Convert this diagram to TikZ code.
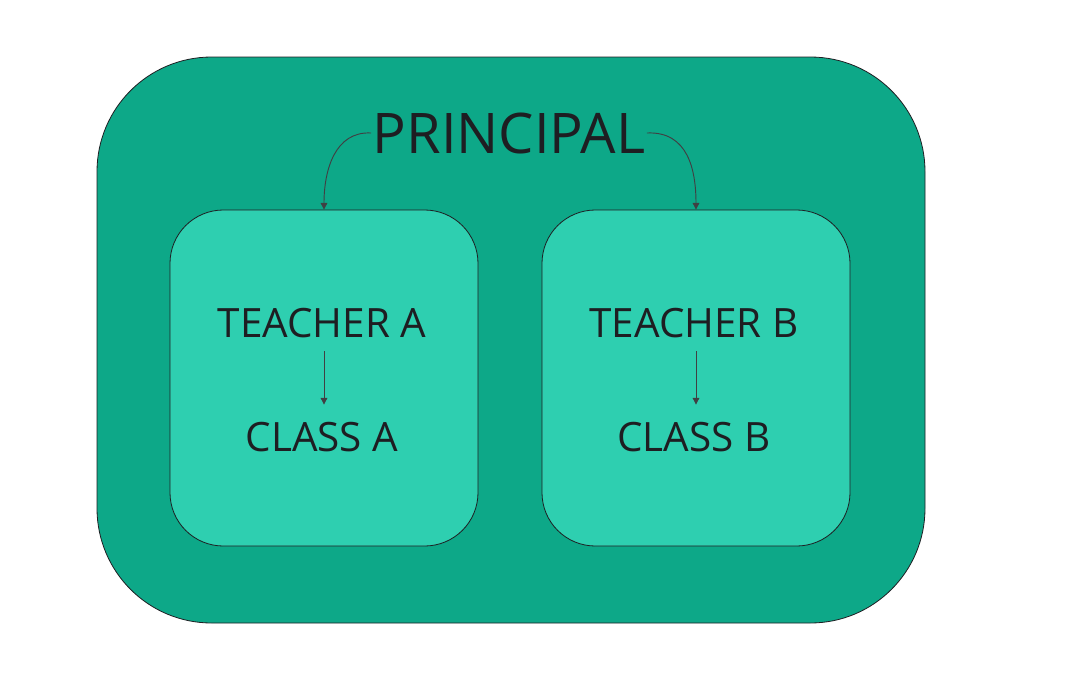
\documentclass[tikz,border=0pt]{standalone}
\usepackage{fontspec}
\setmainfont{Open Sans}
\usetikzlibrary{arrows.meta,positioning}

\definecolor{outergreen}{RGB}{13,168,136}
\definecolor{innergreen}{RGB}{46,207,176}
\definecolor{inkdark}{RGB}{30,30,34}

\tikzset{
  outerbox/.style={draw=inkdark, line width=0.6pt, fill=outergreen, rounded corners=86pt,
    minimum width=621pt, minimum height=424.5pt, inner sep=0pt},
  classbox/.style={draw=inkdark, line width=0.6pt, fill=innergreen, rounded corners=40pt,
    minimum width=231pt, minimum height=252pt, inner sep=0pt},
  bigtext/.style={font=\fontsize{42}{48}\selectfont, text=inkdark, inner sep=1pt},
  smalltext/.style={font=\fontsize{30.3}{34}\selectfont, text=inkdark, inner sep=1pt},
  link/.style={draw=inkdark!85, line width=0.7pt, -{Triangle[length=5pt,width=5pt]}},
}

\begin{document}
\begin{tikzpicture}[x=0.75pt,y=0.75pt,yscale=-1,xscale=1]
\useasboundingbox (0,0) rectangle (1065,697);

% outer frame
\node[outerbox] (principalbox) at (511,340) {};
% two inner frames
\node[classbox] (boxa) at (324,378) {};
\node[classbox] (boxb) at (696,378) {};

% Text Node
\node[bigtext] (principal) at (509,133) {PRINCIPAL};
\node[smalltext] (teachera) at (322,323) {TEACHER A};
\node[smalltext] (classa) at (322,437) {CLASS A};
\node[smalltext] (teacherb) at (694,323) {TEACHER B};
\node[smalltext] (classb) at (694,437) {CLASS B};

% curved links from principal
\draw[link] (principal.west) .. controls (335,131) and (324,170) .. (boxa.north);
\draw[link] (principal.east) .. controls (688,131) and (696,170) .. (boxb.north);

% straight links
\draw[link] ([yshift=9pt]teachera.south -| boxa.north) -- ([yshift=-12pt]classa.north -| boxa.north);
\draw[link] ([yshift=9pt]teacherb.south -| boxb.north) -- ([yshift=-12pt]classb.north -| boxb.north);

\end{tikzpicture}
\end{document}
